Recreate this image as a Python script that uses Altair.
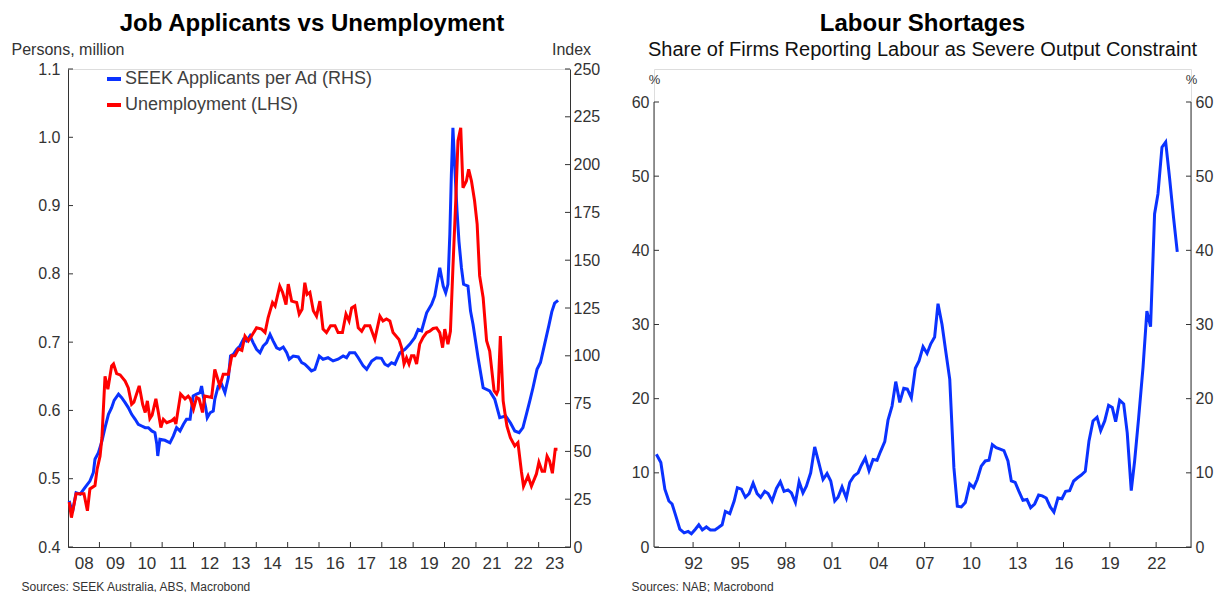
import altair as alt
import pandas as pd

FONT = "Liberation Sans"
BLUE = "#0a32ff"
RED = "#ff0000"
AX = "#333333"
TXT = "#333333"

# ---------------- Left chart data (decimal years) ----------------
UNEMP_T = [2008.04, 2008.11, 2008.26, 2008.51, 2008.62, 2008.70, 2008.86, 2008.93, 2009.02, 2009.08,
           2009.18, 2009.27, 2009.39, 2009.45, 2009.55, 2009.66, 2009.82, 2009.92, 2010.03, 2010.10,
           2010.27, 2010.38, 2010.46, 2010.53, 2010.61, 2010.68, 2010.80, 2010.88, 2010.96, 2011.04,
           2011.15, 2011.31, 2011.38, 2011.44, 2011.59, 2011.73, 2011.83, 2011.90, 2012.00, 2012.10,
           2012.18, 2012.29, 2012.36, 2012.58, 2012.68, 2012.84, 2012.95, 2013.11, 2013.22, 2013.32,
           2013.43, 2013.54, 2013.64, 2013.75, 2013.85, 2014.01, 2014.17, 2014.28, 2014.38, 2014.52,
           2014.60, 2014.75, 2014.84, 2014.95, 2015.02, 2015.13, 2015.29, 2015.37, 2015.46, 2015.55,
           2015.62, 2015.71, 2015.82, 2015.92, 2016.03, 2016.13, 2016.24, 2016.37, 2016.51, 2016.61,
           2016.75, 2016.86, 2016.96, 2017.04, 2017.14, 2017.25, 2017.36, 2017.46, 2017.62, 2017.78,
           2017.94, 2018.04, 2018.15, 2018.26, 2018.36, 2018.55, 2018.63, 2018.71, 2018.79, 2018.87,
           2018.95, 2019.03, 2019.11, 2019.21, 2019.32, 2019.43, 2019.53, 2019.64, 2019.75, 2019.85,
           2019.94, 2020.01, 2020.11, 2020.19, 2020.27, 2020.36, 2020.43, 2020.52, 2020.59, 2020.70,
           2020.77, 2020.86, 2020.96, 2021.04, 2021.12, 2021.23, 2021.34, 2021.44, 2021.58, 2021.66,
           2021.71, 2021.78, 2021.87, 2021.95, 2021.99, 2022.10, 2022.24, 2022.34, 2022.45, 2022.52,
           2022.66, 2022.77, 2022.93, 2023.01, 2023.11, 2023.19, 2023.27, 2023.35, 2023.44, 2023.53,
           2023.60]
UNEMP_V = [0.466, 0.443, 0.478, 0.478, 0.453, 0.485, 0.490, 0.514, 0.533, 0.560,
           0.650, 0.631, 0.665, 0.668, 0.654, 0.652, 0.643, 0.633, 0.609, 0.612,
           0.636, 0.609, 0.597, 0.614, 0.588, 0.593, 0.617, 0.597, 0.575, 0.587,
           0.582, 0.585, 0.588, 0.580, 0.624, 0.617, 0.621, 0.617, 0.602, 0.619,
           0.617, 0.597, 0.621, 0.619, 0.660, 0.636, 0.653, 0.653, 0.680, 0.680,
           0.690, 0.688, 0.709, 0.702, 0.709, 0.721, 0.719, 0.714, 0.736, 0.758,
           0.753, 0.782, 0.773, 0.755, 0.785, 0.760, 0.758, 0.741, 0.748, 0.787,
           0.770, 0.773, 0.746, 0.738, 0.760, 0.719, 0.714, 0.724, 0.724, 0.714,
           0.714, 0.741, 0.731, 0.750, 0.753, 0.721, 0.716, 0.724, 0.724, 0.704,
           0.738, 0.731, 0.734, 0.731, 0.714, 0.704, 0.692, 0.668, 0.677, 0.668,
           0.680, 0.680, 0.668, 0.697, 0.707, 0.714, 0.716, 0.720, 0.721, 0.714,
           0.692, 0.719, 0.697, 0.716, 0.809, 0.907, 0.995, 1.014, 0.926, 0.936,
           0.953, 0.936, 0.907, 0.873, 0.797, 0.765, 0.702, 0.687, 0.629, 0.624,
           0.630, 0.709, 0.614, 0.589, 0.577, 0.560, 0.548, 0.553, 0.511, 0.489,
           0.504, 0.489, 0.507, 0.524, 0.511, 0.511, 0.533, 0.526, 0.508, 0.543,
           0.543]

SEEK_T = [2008.04, 2008.14, 2008.26, 2008.39, 2008.54, 2008.70, 2008.81, 2008.86, 2008.97, 2009.08,
          2009.18, 2009.29, 2009.39, 2009.47, 2009.61, 2009.71, 2009.82, 2009.92, 2010.03, 2010.14,
          2010.24, 2010.35, 2010.46, 2010.56, 2010.67, 2010.77, 2010.83, 2010.86, 2010.93, 2011.09,
          2011.25, 2011.36, 2011.46, 2011.57, 2011.68, 2011.78, 2011.89, 2011.99, 2012.10, 2012.21,
          2012.26, 2012.31, 2012.39, 2012.44, 2012.53, 2012.63, 2012.68, 2012.79, 2012.90, 2013.00,
          2013.11, 2013.18, 2013.27, 2013.38, 2013.48, 2013.59, 2013.69, 2013.80, 2013.90, 2014.01,
          2014.12, 2014.22, 2014.33, 2014.44, 2014.54, 2014.65, 2014.75, 2014.86, 2014.97, 2015.05,
          2015.18, 2015.34, 2015.45, 2015.55, 2015.66, 2015.76, 2015.87, 2016.01, 2016.13, 2016.29,
          2016.45, 2016.61, 2016.77, 2016.88, 2016.98, 2017.14, 2017.25, 2017.41, 2017.52, 2017.68,
          2017.83, 2017.99, 2018.10, 2018.20, 2018.31, 2018.42, 2018.58, 2018.74, 2018.89, 2019.05,
          2019.16, 2019.27, 2019.43, 2019.59, 2019.69, 2019.85, 2019.96, 2020.04, 2020.11, 2020.17,
          2020.22, 2020.27, 2020.33, 2020.40, 2020.46, 2020.54, 2020.61, 2020.75, 2020.83, 2020.91,
          2021.07, 2021.23, 2021.44, 2021.60, 2021.76, 2021.95, 2022.10, 2022.24, 2022.38, 2022.50,
          2022.61, 2022.72, 2022.82, 2022.95, 2023.06, 2023.19, 2023.33, 2023.42, 2023.51, 2023.62]
SEEK_V = [24.1, 17.9, 28.4, 27.6, 31.0, 34.5, 38.9, 45.9, 49.3, 55.4,
          62.4, 69.4, 72.9, 76.7, 79.9, 78.1, 75.5, 72.9, 69.4, 66.8,
          64.2, 63.3, 62.4, 62.4, 60.7, 59.8, 53.7, 47.6, 56.3, 55.8,
          54.5, 58.1, 62.4, 60.7, 64.2, 66.8, 66.8, 79.0, 79.9, 80.7,
          84.2, 79.0, 72.9, 67.6, 70.2, 71.1, 77.3, 84.2, 85.1, 80.7,
          88.6, 99.9, 100.8, 103.4, 105.1, 108.6, 107.7, 110.4, 106.9, 103.4,
          101.6, 105.1, 106.9, 111.2, 107.7, 104.2, 103.4, 104.6, 101.6, 98.2,
          99.9, 99.4, 96.4, 95.6, 93.8, 92.1, 92.9, 99.9, 98.2, 99.0,
          97.3, 98.2, 99.9, 99.0, 101.6, 101.6, 99.0, 94.7, 92.9, 97.3,
          99.0, 98.7, 95.6, 94.7, 96.4, 95.6, 101.6, 103.4, 106.0, 109.5,
          113.8, 113.0, 122.5, 126.9, 131.3, 146.1, 136.5, 133.0, 137.4, 163.6,
          194.9, 219.3, 198.4, 175.7, 160.0, 146.1, 137.4, 136.5, 123.4, 116.5,
          99.0, 83.3, 81.6, 77.3, 67.6, 68.5, 65.0, 60.7, 59.8, 62.4,
          69.4, 76.4, 83.3, 92.9, 96.5, 106.0, 116.0, 123.0, 127.5, 129.0]

# ---------------- Right chart data (decimal years, %) ----------------
NAB_T = [1989.62, 1989.91, 1990.17, 1990.43, 1990.64, 1990.85, 1991.14, 1991.42, 1991.68, 1991.89,
         1992.15, 1992.37, 1992.60, 1992.86, 1993.12, 1993.41, 1993.62, 1993.88, 1994.09, 1994.38,
         1994.66, 1994.87, 1995.13, 1995.39, 1995.63, 1995.89, 1996.15, 1996.38, 1996.64, 1996.86,
         1997.12, 1997.40, 1997.65, 1997.89, 1998.15, 1998.37, 1998.63, 1998.87, 1999.12, 1999.34,
         1999.62, 1999.88, 2000.14, 2000.42, 2000.68, 2000.92, 2001.18, 2001.39, 2001.65, 2001.93,
         2002.15, 2002.43, 2002.69, 2002.90, 2003.16, 2003.40, 2003.66, 2003.92, 2004.13, 2004.42,
         2004.63, 2004.89, 2005.13, 2005.39, 2005.65, 2005.88, 2006.14, 2006.40, 2006.64, 2006.90,
         2007.16, 2007.40, 2007.65, 2007.87, 2008.13, 2008.37, 2008.63, 2008.90, 2009.12, 2009.38,
         2009.64, 2009.92, 2010.18, 2010.41, 2010.67, 2010.93, 2011.17, 2011.39, 2011.64, 2011.90,
         2012.14, 2012.40, 2012.62, 2012.87, 2013.11, 2013.37, 2013.63, 2013.87, 2014.13, 2014.39,
         2014.62, 2014.88, 2015.14, 2015.38, 2015.64, 2015.90, 2016.14, 2016.40, 2016.66, 2016.89,
         2017.15, 2017.41, 2017.65, 2017.91, 2018.17, 2018.41, 2018.67, 2018.92, 2019.16, 2019.38,
         2019.64, 2019.90, 2020.13, 2020.39, 2020.61, 2020.87, 2021.15, 2021.40, 2021.64, 2021.90,
         2022.12, 2022.38, 2022.62, 2022.87, 2023.13, 2023.37]
NAB_V = [12.5, 11.4, 7.8, 6.2, 5.8, 4.4, 2.4, 1.9, 2.1, 1.8,
         2.4, 3.0, 2.3, 2.7, 2.3, 2.3, 2.6, 3.0, 4.8, 4.5,
         6.2, 8.0, 7.8, 6.7, 7.2, 8.6, 7.2, 6.7, 7.5, 7.2,
         6.2, 7.9, 8.8, 7.5, 7.7, 7.3, 6.0, 8.8, 7.3, 8.2,
         10.0, 13.5, 11.4, 9.1, 9.9, 8.9, 6.2, 6.7, 8.1, 6.6,
         8.7, 9.6, 10.0, 11.0, 12.0, 10.3, 11.8, 11.7, 12.8, 14.2,
         17.1, 19.0, 22.3, 19.5, 21.4, 21.3, 20.1, 24.1, 25.1, 27.0,
         26.1, 27.4, 28.3, 32.8, 30.0, 26.4, 22.6, 10.7, 5.5, 5.4,
         6.0, 8.5, 8.0, 9.1, 10.9, 11.6, 11.7, 13.8, 13.4, 13.2,
         13.0, 11.6, 8.9, 8.7, 7.5, 6.3, 6.4, 5.3, 5.8, 7.0,
         6.9, 6.6, 5.4, 4.7, 6.6, 6.5, 7.5, 7.6, 8.9, 9.3,
         9.7, 10.2, 14.3, 17.0, 17.5, 15.7, 17.0, 19.1, 18.8, 16.9,
         19.8, 19.3, 15.4, 7.6, 11.6, 17.4, 24.2, 31.8, 29.7, 44.9,
         47.6, 53.9, 54.6, 49.8, 44.4, 39.8]

SEEK_NAME = "SEEK Applicants per Ad (RHS)"
UNEMP_NAME = "Unemployment (LHS)"

LEFT_TICKS = [0.4, 0.5, 0.6, 0.7, 0.8, 0.9, 1.0, 1.1]
RIGHT_TICKS = [0, 25, 50, 75, 100, 125, 150, 175, 200, 225, 250]
PCT_TICKS = [0, 10, 20, 30, 40, 50, 60]
PCT_RANGE = [0, 60]
LEFT_YEARS = list(range(2008, 2024))
RIGHT_YEARS = list(range(1992, 2023, 3))


def dec_to_iso(y):
    yr = int(y)
    ts = pd.Timestamp(year=yr, month=1, day=1) + pd.Timedelta(days=(y - yr) * 365.25)
    return ts.strftime("%Y-%m-%d")


unemp_df = pd.DataFrame({"date": [dec_to_iso(t) for t in UNEMP_T], "value": UNEMP_V, "series": UNEMP_NAME})
seek_df = pd.DataFrame({"date": [dec_to_iso(t) for t in SEEK_T], "value": SEEK_V, "series": SEEK_NAME})
nab_df = pd.DataFrame({"date": [dec_to_iso(t) for t in NAB_T], "value": NAB_V})

W1, H1 = 502, 478
W2 = 537
H2_AXIS = 445          # height of the 0-60 span on the right panel
TICK = 5
# the right panel shares the left panel's height; its scale top is raised so that 0-60 spans H2_AXIS px
PCT_TOP = PCT_RANGE[1] * H1 / H2_AXIS

lab = dict(labelFont=FONT, labelFontSize=16, labelColor=TXT, domainColor=AX, domainWidth=1,
           ticks=False, tickSize=0, grid=False, titleFont=FONT, titleFontWeight="normal")
xlab = dict(lab, labelFontSize=17)

# ---------------- Left chart ----------------
x1_scale = alt.Scale(domain=["2008-01-01", "2024-01-01"])
x1_axis = alt.Axis(values=[alt.DateTime(year=y, month=7, date=1) for y in LEFT_YEARS], format="%y",
                   labelPadding=8, title="Sources: SEEK Australia, ABS, Macrobond",
                   titleFontSize=12, titleColor=TXT, titleX=-47, titleY=43, titleAlign="left",
                   titleBaseline="alphabetic", **xlab)
yl_scale = alt.Scale(domain=[0.4, 1.1], nice=False, zero=False)
yl_axis = alt.Axis(values=LEFT_TICKS, format=".1f", labelPadding=8, orient="left",
                   title="Persons, million", titleAngle=0, titleFontSize=16, titleColor=TXT,
                   titleX=-57, titleY=-15, titleAlign="left", titleBaseline="alphabetic", **lab)
yr_scale = alt.Scale(domain=[0, 250], nice=False)
yr_axis = alt.Axis(values=RIGHT_TICKS, labelPadding=3, orient="right",
                   title="Index", titleAngle=0, titleFontSize=16, titleColor=TXT,
                   titleX=1, titleY=-15, titleAlign="center", titleBaseline="alphabetic", **lab)

color = alt.Color("series:N", scale=alt.Scale(domain=[SEEK_NAME, UNEMP_NAME], range=[BLUE, RED]),
                  legend=alt.Legend(title=None, orient="none", legendX=37, legendY=1,
                                    symbolType="stroke", symbolStrokeWidth=4, symbolSize=196,
                                    labelFont=FONT, labelFontSize=18, labelColor="#404040",
                                    labelLimit=500, rowPadding=8, labelOffset=2))

xl = alt.X("date:T", scale=x1_scale, axis=x1_axis)

red_line = alt.Chart(unemp_df).mark_line(strokeWidth=3).encode(
    x=xl, y=alt.Y("value:Q", scale=yl_scale, axis=yl_axis), color=color)
left_ticks = alt.Chart(pd.DataFrame({"value": LEFT_TICKS})).mark_rule(color=AX).encode(
    x=alt.value(0), x2=alt.value(TICK), y=alt.Y("value:Q", scale=yl_scale, axis=yl_axis))
x1_ticks = alt.Chart(pd.DataFrame({"date": [f"{y}-01-01" for y in LEFT_YEARS[1:]]})).mark_rule(color=AX).encode(
    x=xl, y=alt.value(H1), y2=alt.value(H1 - TICK))

blue_line = alt.Chart(seek_df).mark_line(strokeWidth=3).encode(
    x=xl, y=alt.Y("value:Q", scale=yr_scale, axis=yr_axis), color=color)
right_ticks = alt.Chart(pd.DataFrame({"value": RIGHT_TICKS})).mark_rule(color=AX).encode(
    x=alt.value(W1 - TICK), x2=alt.value(W1), y=alt.Y("value:Q", scale=yr_scale, axis=yr_axis))

left_chart = alt.layer(
    alt.layer(blue_line, right_ticks),
    alt.layer(red_line, left_ticks, x1_ticks),
).resolve_scale(y="independent").properties(
    width=W1, height=H1,
    title=alt.TitleParams("Job Applicants vs Unemployment", fontSize=24, fontWeight="bold",
                          font=FONT, color="#000000", anchor="middle", dx=-7, offset=5),
)

# ---------------- Right chart ----------------
x2_scale = alt.Scale(domain=["1989-06-20", "2024-04-05"])
x2_axis = alt.Axis(values=[alt.DateTime(year=y, month=1, date=1) for y in RIGHT_YEARS], format="%y",
                   labelPadding=8, title="Sources: NAB; Macrobond",
                   titleFontSize=12, titleColor=TXT, titleX=-23, titleY=43, titleAlign="left",
                   titleBaseline="alphabetic", **xlab)
yp_scale = alt.Scale(domain=[0, PCT_TOP], nice=False)
lab_nodomain = dict(lab, domain=False)
ypl_axis = alt.Axis(values=PCT_TICKS, labelPadding=5, orient="left", title="%", titleAngle=0,
                    titleFontSize=13, titleColor=TXT, titleX=0, titleY=14, titleAlign="center",
                    titleBaseline="alphabetic", **lab_nodomain)
ypr_axis = alt.Axis(values=PCT_TICKS, labelPadding=4, orient="right", title="%", titleAngle=0,
                    titleFontSize=13, titleColor=TXT, titleX=0, titleY=14, titleAlign="center",
                    titleBaseline="alphabetic", **lab_nodomain)
xr = alt.X("date:T", scale=x2_scale, axis=x2_axis)

nab_line = alt.Chart(nab_df).mark_line(strokeWidth=3, color=BLUE).encode(
    x=xr, y=alt.Y("value:Q", scale=yp_scale, axis=ypl_axis))
pl_ticks = alt.Chart(pd.DataFrame({"value": PCT_TICKS})).mark_rule(color=AX).encode(
    x=alt.value(0), x2=alt.value(TICK), y=alt.Y("value:Q", scale=yp_scale, axis=ypl_axis))
span_df = pd.DataFrame({"value": [PCT_RANGE[0]], "value2": [PCT_RANGE[1]]})
pl_line = alt.Chart(span_df).mark_rule(color=AX).encode(
    x=alt.value(0), y=alt.Y("value:Q", scale=yp_scale, axis=ypl_axis), y2="value2:Q")
x2_ticks = alt.Chart(pd.DataFrame({"date": [f"{y}-01-01" for y in RIGHT_YEARS]})).mark_rule(color=AX).encode(
    x=xr, y=alt.value(H1), y2=alt.value(H1 - TICK))
pr_ticks = alt.Chart(pd.DataFrame({"value": PCT_TICKS})).mark_rule(color=AX).encode(
    x=alt.value(W2 - TICK), x2=alt.value(W2), y=alt.Y("value:Q", scale=yp_scale, axis=ypr_axis))
pr_line = alt.Chart(span_df).mark_rule(color=AX).encode(
    x=alt.value(W2), y=alt.Y("value:Q", scale=yp_scale, axis=ypr_axis), y2="value2:Q")

right_chart = alt.layer(
    alt.layer(nab_line, pl_ticks, pl_line, x2_ticks),
    alt.layer(pr_ticks, pr_line),
).resolve_scale(y="independent").properties(
    width=W2, height=H1,
    title=alt.TitleParams("Labour Shortages", subtitle="Share of Firms Reporting Labour as Severe Output Constraint",
                          fontSize=24, fontWeight="bold", font=FONT, color="#000000",
                          subtitleFont=FONT, subtitleFontSize=20, subtitleColor="#111111",
                          subtitlePadding=4, anchor="middle", offset=9),
)

chart = alt.hconcat(left_chart, right_chart, spacing=29).properties(
    padding={"left": 2, "top": 3, "right": 0, "bottom": 0}
).configure_view(stroke=None).configure(background="white")

chart.save("out.html", embed_options={"renderer": "svg", "actions": False})
